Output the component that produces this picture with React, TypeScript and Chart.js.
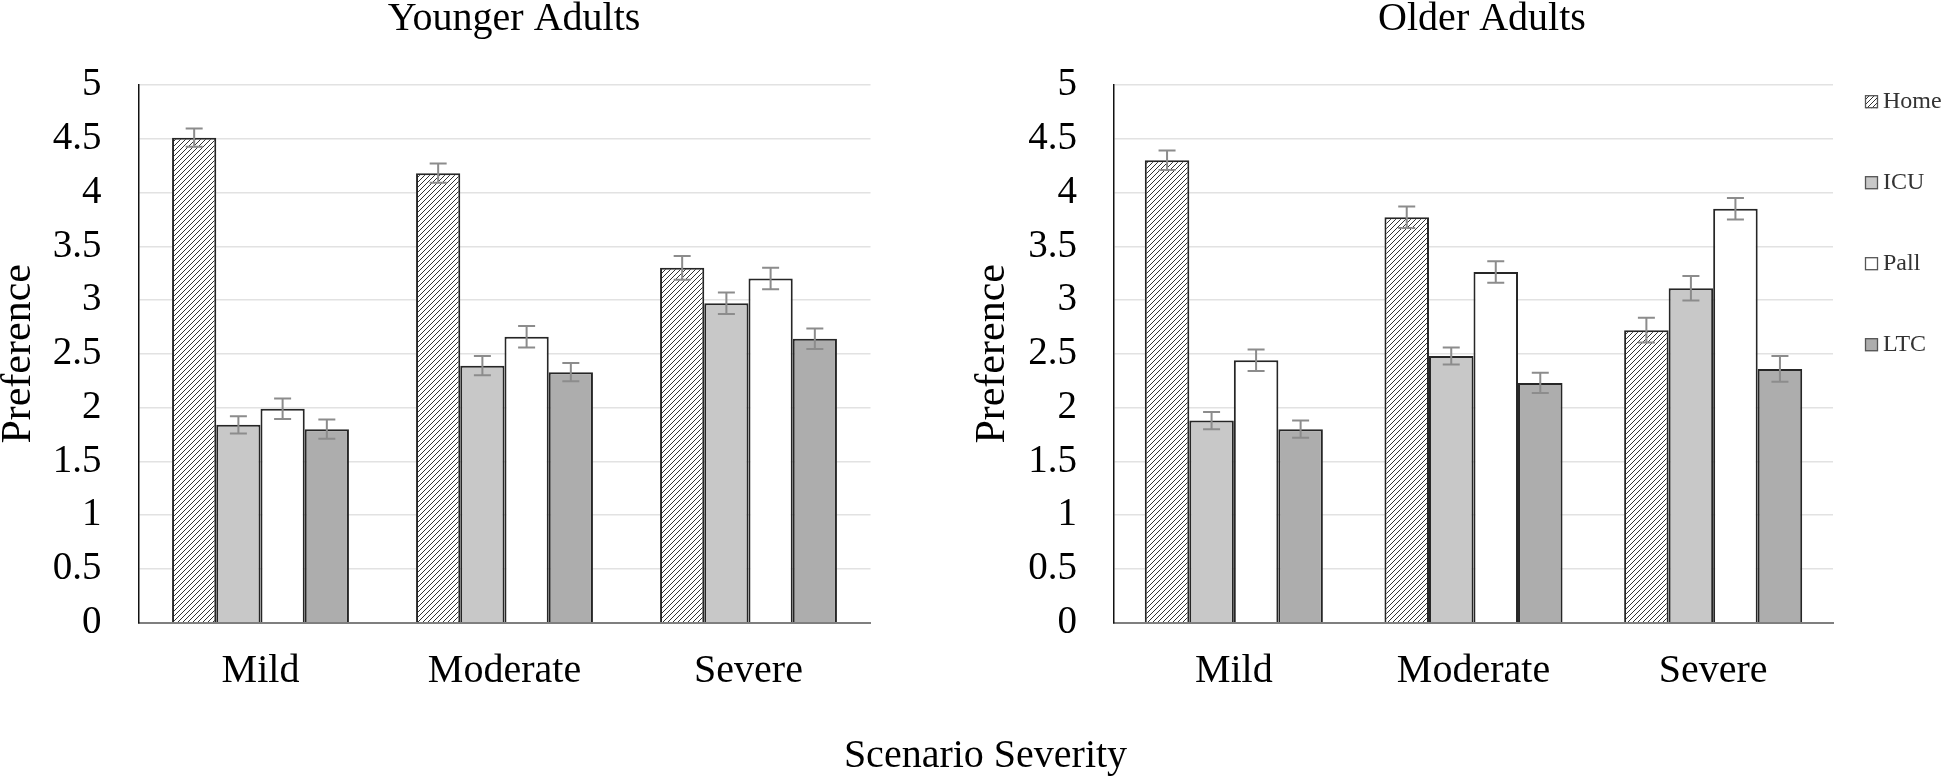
import React, { useEffect, useRef } from 'react';
import { Chart, registerables } from 'chart.js';

Chart.register(...registerables);

// ---------- data ----------
const categories = ['Mild', 'Moderate', 'Severe'];
const seriesLabels = ['Home', 'ICU', 'Pall', 'LTC'];
const yTickLabels = ['0', '0.5', '1', '1.5', '2', '2.5', '3', '3.5', '4', '4.5', '5'];

const youngerHome = [4.51, 4.18, 3.3];
const youngerICU = [1.84, 2.39, 2.97];
const youngerPall = [1.99, 2.66, 3.2];
const youngerLTC = [1.8, 2.33, 2.64];
const youngerHomeErr = [0.085, 0.09, 0.11];
const youngerICUErr = [0.08, 0.09, 0.1];
const youngerPallErr = [0.095, 0.1, 0.1];
const youngerLTCErr = [0.09, 0.085, 0.095];

const olderHome = [4.3, 3.77, 2.72];
const olderICU = [1.88, 2.48, 3.11];
const olderPall = [2.44, 3.26, 3.85];
const olderLTC = [1.8, 2.23, 2.36];
const olderHomeErr = [0.09, 0.1, 0.115];
const olderICUErr = [0.08, 0.08, 0.115];
const olderPallErr = [0.1, 0.1, 0.1];
const olderLTCErr = [0.08, 0.095, 0.12];

const leftTitle = 'Younger Adults';
const rightTitle = 'Older Adults';
const yAxisTitle = 'Preference';
const xAxisTitle = 'Scenario Severity';

// ---------- styles ----------
const FONT = "'Liberation Serif', 'Times New Roman', serif";
const ICU_FILL = '#c8c8c8';
const PALL_FILL = '#ffffff';
const LTC_FILL = '#adadad';
const BAR_BORDER = '#262626';
const ERR_COLOR = '#8c8c8c';

function makeHatch(): CanvasPattern | string {
  const c = document.createElement('canvas');
  const s = 5;
  c.width = s;
  c.height = s;
  const g = c.getContext('2d');
  if (!g) return '#888';
  g.fillStyle = '#ffffff';
  g.fillRect(0, 0, s, s);
  g.strokeStyle = '#333333';
  g.lineWidth = 1;
  g.beginPath();
  g.moveTo(0, s);
  g.lineTo(s, 0);
  g.moveTo(-1, 1);
  g.lineTo(1, -1);
  g.moveTo(s - 1, s + 1);
  g.lineTo(s + 1, s - 1);
  g.stroke();
  const p = g.createPattern(c, 'repeat');
  return p || '#888';
}

const errorBarPlugin = {
  id: 'errorBars',
  afterDatasetsDraw(chart: any) {
    const ctx = chart.ctx;
    const ys = chart.scales.y;
    chart.data.datasets.forEach((ds: any, i: number) => {
      const meta = chart.getDatasetMeta(i);
      meta.data.forEach((bar: any, j: number) => {
        const v = ds.data[j];
        const e = ds.errors[j];
        const x = bar.x;
        const yt = ys.getPixelForValue(v + e);
        const yb = ys.getPixelForValue(v - e);
        ctx.save();
        ctx.strokeStyle = ERR_COLOR;
        ctx.lineWidth = 2;
        ctx.beginPath();
        ctx.moveTo(x, yt);
        ctx.lineTo(x, yb);
        ctx.moveTo(x - 8.5, yt);
        ctx.lineTo(x + 8.5, yt);
        ctx.moveTo(x - 8.5, yb);
        ctx.lineTo(x + 8.5, yb);
        ctx.stroke();
        ctx.restore();
      });
    });
  },
};

function titlePlugin(text: string, cx: number, baseline: number) {
  return {
    id: 'panelTitle',
    afterDraw(chart: any) {
      const ctx = chart.ctx;
      ctx.save();
      ctx.font = `40px ${FONT}`;
      ctx.fillStyle = '#000';
      ctx.textAlign = 'center';
      ctx.textBaseline = 'alphabetic';
      ctx.fillText(text, cx, baseline);
      ctx.restore();
    },
  };
}

function sideLegendPlugin(boxX: number, textX: number, firstY: number, step: number) {
  return {
    id: 'sideLegend',
    afterDraw(chart: any) {
      const ctx = chart.ctx;
      ctx.save();
      chart.data.datasets.forEach((ds: any, i: number) => {
        const cy = firstY + i * step;
        ctx.fillStyle = ds.backgroundColor;
        ctx.fillRect(boxX, cy - 6.5, 13, 13);
        ctx.strokeStyle = '#555';
        ctx.lineWidth = 1.3;
        ctx.strokeRect(boxX + 0.5, cy - 6, 12, 12);
        ctx.fillStyle = '#333';
        ctx.font = `24px ${FONT}`;
        ctx.textAlign = 'left';
        ctx.textBaseline = 'middle';
        ctx.fillText(ds.label, textX, cy);
      });
      ctx.restore();
    },
  };
}

interface PanelCfg {
  values: number[][];
  errors: number[][];
  yAxisWidth: number;
  padRight: number;
  yTitlePad: number;
  catPct: number;
  plugins: any[];
}

function buildChart(canvas: HTMLCanvasElement, cfg: PanelCfg) {
  const hatch = makeHatch();
  const fills = [hatch, ICU_FILL, PALL_FILL, LTC_FILL];
  const datasets = seriesLabels.map((lab, i) => ({
    label: lab,
    data: cfg.values[i],
    errors: cfg.errors[i],
    backgroundColor: fills[i],
    borderColor: BAR_BORDER,
    borderWidth: 2,
    categoryPercentage: cfg.catPct,
    barPercentage: 1,
  }));
  return new Chart(canvas, {
    type: 'bar',
    data: { labels: categories, datasets: datasets as any },
    options: {
      animation: false,
      responsive: true,
      maintainAspectRatio: false,
      devicePixelRatio: 1,
      layout: { padding: { top: 85, bottom: 0, left: 0, right: cfg.padRight } },
      plugins: {
        legend: { display: false },
        title: { display: false },
        tooltip: { enabled: false },
      },
      scales: {
        x: {
          grid: { display: false, drawTicks: false },
          border: { display: true, color: '#7f7f7f', width: 2 },
          ticks: {
            padding: 25,
            color: '#000',
            font: { family: FONT, size: 40 },
          },
          afterFit: (s: any) => {
            s.height = 155.3;
          },
        },
        y: {
          min: 0,
          max: 5,
          ticks: {
            stepSize: 0.5,
            padding: 37,
            color: '#000',
            font: { family: FONT, size: 39 },
            callback: (_v: any, idx: number) => yTickLabels[idx],
          },
          grid: { color: '#e2e2e2', lineWidth: 1.5, drawTicks: false },
          border: { display: true, color: '#111', width: 1.5 },
          title: {
            display: true,
            text: yAxisTitle,
            color: '#000',
            font: { family: FONT, size: 42, lineHeight: 0.9 },
            padding: { top: cfg.yTitlePad, bottom: 0 },
          },
          afterFit: (s: any) => {
            s.width = cfg.yAxisWidth;
          },
        },
      },
    } as any,
    plugins: [errorBarPlugin, ...cfg.plugins],
  });
}

export default function App() {
  const leftRef = useRef<HTMLCanvasElement>(null);
  const rightRef = useRef<HTMLCanvasElement>(null);

  useEffect(() => {
    if (!leftRef.current || !rightRef.current) return;
    const left = buildChart(leftRef.current, {
      values: [youngerHome, youngerICU, youngerPall, youngerLTC],
      errors: [youngerHomeErr, youngerICUErr, youngerPallErr, youngerLTCErr],
      yAxisWidth: 138.5,
      padRight: 157.5,
      yTitlePad: 0,
      catPct: 0.725,
      plugins: [titlePlugin(leftTitle, 514, 29.5)],
    });
    const right = buildChart(rightRef.current, {
      values: [olderHome, olderICU, olderPall, olderLTC],
      errors: [olderHomeErr, olderICUErr, olderPallErr, olderLTCErr],
      yAxisWidth: 154,
      padRight: 110,
      yTitlePad: 14,
      catPct: 0.743,
      plugins: [titlePlugin(rightTitle, 522, 29.5), sideLegendPlugin(905, 923, 101.7, 81)],
    });
    return () => {
      left.destroy();
      right.destroy();
    };
  }, []);

  return (
    <div
      style={{
        position: 'absolute',
        left: 0,
        top: 0,
        width: 1943,
        height: 778,
        overflow: 'hidden',
        background: '#fff',
      }}
    >
      <div style={{ position: 'absolute', left: 0, top: 0, width: 1028, height: 778 }}>
        <canvas ref={leftRef} />
      </div>
      <div style={{ position: 'absolute', left: 960, top: 0, width: 983, height: 778 }}>
        <canvas ref={rightRef} />
      </div>
      <div
        style={{
          position: 'absolute',
          left: 485.5,
          top: 733.5,
          width: 1000,
          height: 40,
          lineHeight: '40px',
          fontSize: 40,
          fontFamily: FONT,
          textAlign: 'center',
          color: '#000',
          whiteSpace: 'nowrap',
        }}
      >
        {xAxisTitle}
      </div>
    </div>
  );
}
